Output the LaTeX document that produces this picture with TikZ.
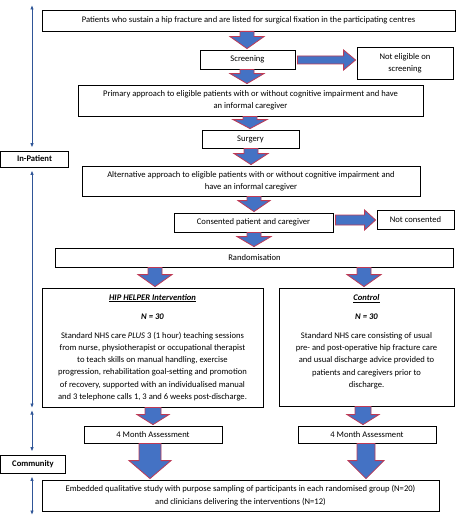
\documentclass[tikz,border=0pt]{standalone}
\usepackage{fontspec}
\setmainfont{Carlito}
\usetikzlibrary{arrows.meta,calc}
\definecolor{arrowblue}{HTML}{4472C4}
\definecolor{arrowred}{HTML}{BE3A55}
\definecolor{spanblue}{HTML}{2F5597}
\newcommand{\fatdown}[6]{%
\draw[fatarrow] let \p1=(#1.south), \p2=(#2.north) in
 ({#3pt-#4pt},\y1) -- ({#3pt+#4pt},\y1) -- ({#3pt+#4pt},{\y2+#6pt+1pt}) -- ({#3pt+#5pt},{\y2+#6pt+1pt})
 -- (#3pt,{\y2+1pt}) -- ({#3pt-#5pt},{\y2+#6pt+1pt}) -- ({#3pt-#4pt},{\y2+#6pt+1pt}) -- cycle;}
\newcommand{\fatright}[6]{%
\draw[fatarrow] let \p1=(#1.east), \p2=(#2.west) in
 ({\x1+2pt},{-#3pt+#4pt}) -- ({\x2-#6pt-1pt},{-#3pt+#4pt}) -- ({\x2-#6pt-1pt},{-#3pt+#5pt})
 -- ({\x2-1pt},-#3pt) -- ({\x2-#6pt-1pt},{-#3pt-#5pt}) -- ({\x2-#6pt-1pt},{-#3pt-#4pt}) -- ({\x1+2pt},{-#3pt-#4pt}) -- cycle;}
\begin{document}
\begin{tikzpicture}[x=1pt, y=-1pt,
 every node/.style={font=\fontsize{8.6}{12.3}\selectfont},
 box/.style={draw, line width=0.8pt, inner sep=0pt, align=center},
 side/.style={box, font=\fontsize{8.6}{12.3}\selectfont\bfseries},
 fatarrow/.style={fill=arrowblue, draw=arrowred, line width=0.8pt, line join=miter},
 span/.style={spanblue, line width=1pt, {Latex[length=4.5pt,width=3.5pt]}-{Latex[length=4.5pt,width=3.5pt]}}]
\useasboundingbox (0,0) rectangle (456,527);
\node[box, minimum width=413pt, minimum height=21pt] (patients) at (248.5,20.5){Patients who sustain a hip fracture and are listed for surgical fixation in the participating centres};
\node[box, minimum width=95pt, minimum height=19pt] (screening) at (247.5,59.5){Screening};
\node[box, minimum width=96pt, minimum height=32pt] (noteligible) at (405,63){Not eligible on\\screening};
\node[box, minimum width=345pt, minimum height=31pt] (primary) at (250.5,100.5){Primary approach to eligible patients with or without cognitive impairment and have\\an informal caregiver};
\node[box, minimum width=97pt, minimum height=18pt] (surgery) at (250.5,139){Surgery};
\node[box, minimum width=338pt, minimum height=30pt] (alternative) at (251,181){Alternative approach to eligible patients with or without cognitive impairment and\\have an informal caregiver};
\node[box, minimum width=159pt, minimum height=19pt] (consented) at (253.5,222.5){Consented patient and caregiver};
\node[box, minimum width=77pt, minimum height=19pt] (notconsented) at (415.5,219.5){Not consented};
\node[box, minimum width=398pt, minimum height=19pt] (randomisation) at (254.5,257.5){Randomisation};
\node[box, minimum width=221pt, minimum height=119pt] (hiphelper) at (152.5,347.5){\underline{\textbf{\textit{HIP HELPER Intervention}}}\\[6.7pt]
\textbf{\textit{N = 30}}\\[6.7pt]
Standard NHS care \textit{PLUS} 3 (1 hour) teaching sessions\\from nurse, physiotherapist or occupational therapist\\to teach skills on manual handling, exercise\\progression, rehabilitation goal-setting and promotion\\of recovery, supported with an individualised manual\\and 3 telephone calls 1, 3 and 6 weeks post-discharge.};
\node[box, minimum width=175pt, minimum height=118pt] (control) at (366.5,347){\underline{\textbf{\textit{Control}}}\\[6.7pt]
\textbf{\textit{N = 30}}\\[6.7pt]
Standard NHS care consisting of usual\\pre- and post-operative hip fracture care\\and usual discharge advice provided to\\patients and caregivers prior to\\discharge.\\\mbox{}};
\node[box, minimum width=138pt, minimum height=17pt] (monthleft) at (153,434.5){4 Month Assessment};
\node[box, minimum width=138pt, minimum height=17pt] (monthright) at (367,434.5){4 Month Assessment};
\node[box, minimum width=397pt, minimum height=31pt] (embedded) at (240.5,495.5){Embedded qualitative study with purpose sampling of participants in each randomised group (N=20)\\and clinicians delivering the interventions (N=12)};
\node[side, minimum width=68pt, minimum height=16pt] (inpatient) at (34.5,159){In-Patient};
\node[side, minimum width=65pt, minimum height=18pt] (community) at (33,464){Community};
\coordinate (spantop) at (32,5);
\coordinate (spanward) at (32,408);
\coordinate (spanhome) at (32,410);
\coordinate (spanend) at (32,515);
\draw[span] (spantop) -- ([yshift=3pt]spantop |- inpatient.north);
\draw[span] ([yshift=-3pt]spanward |- inpatient.south) -- (spanward);
\draw[span] (spanhome) -- ([yshift=3pt]spanhome |- community.north);
\draw[span] ([yshift=-3pt]spanend |- community.south) -- (spanend);
\fatdown{patients}{screening}{247}{7}{17}{12}
\fatdown{screening}{primary}{247}{7}{17}{10}
\fatdown{primary}{surgery}{250}{7}{17}{9}
\fatdown{surgery}{alternative}{251}{7}{17}{11}
\fatdown{alternative}{consented}{254}{7}{16}{11}
\fatdown{consented}{randomisation}{254}{7}{17}{10}
\fatdown{randomisation}{hiphelper}{155}{7}{17}{12}
\fatdown{randomisation}{control}{364}{7}{17}{12}
\fatdown{hiphelper}{monthleft}{153}{8}{16}{10}
\fatdown{control}{monthright}{363}{8}{16}{10}
\fatdown{monthleft}{embedded}{150}{11}{21}{18}
\fatdown{monthright}{embedded}{366}{9}{18}{18}
\fatright{screening}{noteligible}{60}{4}{10}{12}
\fatright{consented}{notconsented}{220}{5}{10}{11}
\end{tikzpicture}
\end{document}
